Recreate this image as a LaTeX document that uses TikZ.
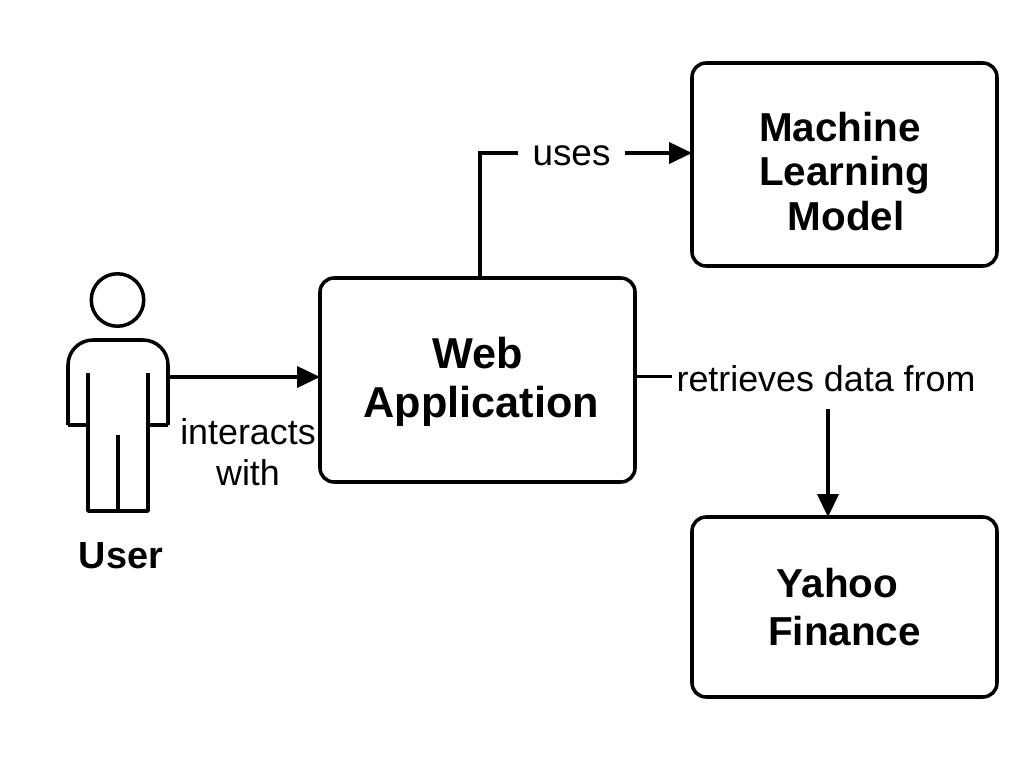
\documentclass[tikz,border=0pt]{standalone}
\usepackage{fontspec}
\setmainfont{Liberation Sans}
\usetikzlibrary{arrows.meta}
\usetikzlibrary{positioning}
\tikzset{
  box/.style={draw, line width=2pt, rounded corners=8pt, outer sep=0pt, align=center},
  lbl/.style={inner sep=0pt, font=\fontsize{20.4}{23}\selectfont},
  figure/.style={line width=2pt, line join=round},
  line/.style={line width=1.8pt},
  arrow/.style={line width=1.8pt, -{Triangle[length=13pt,width=12pt]}}
}

\begin{document}
\begin{tikzpicture}
  \useasboundingbox (0,0) rectangle (20.48,-15.38);

  \node[box, minimum width=6.3cm, minimum height=4.08cm, font=\fontsize{24.6}{28}\selectfont\bfseries] (web) at (9.55,-7.6) {\rule{0pt}{20pt}Web\\\hspace*{4.5pt}Application};
  \node[box, minimum width=6.1cm, minimum height=4.06cm, font=\fontsize{23}{25.5}\selectfont\bfseries] (ml) at (16.89,-3.29) {\rule{0pt}{24.6pt}Machine\hspace*{5pt}\\Learning\\\hspace*{2pt}Model};
  \node[box, minimum width=6.1cm, minimum height=3.6cm, font=\fontsize{23}{27}\selectfont\bfseries] (yahoo) at (16.89,-12.14) {Yahoo\hspace*{8pt}\\Finance};

  % user figure
  \node[draw, circle, line width=2pt, minimum size=1.05cm, inner sep=0pt, outer sep=0pt] (head) at (2.35,-6) {};
  \draw[figure, rounded corners=0.5cm] (1.36,-8.5) -- (1.36,-6.8) -- (3.36,-6.8) -- (3.36,-8.5);
  \draw[figure] (1.76,-7.46) -- (1.76,-8.5) -- (1.36,-8.5);
  \draw[figure] (2.96,-7.46) -- (2.96,-8.5) -- (3.36,-8.5);
  \draw[figure] (1.76,-8.5) -- (1.76,-10.22) -- (2.96,-10.22) -- (2.96,-8.5);
  \draw[figure] (2.36,-8.7) -- (2.36,-10.22);
  \node[lbl, font=\fontsize{21.5}{24}\selectfont\bfseries] (user) at (2.42,-11.12) {User};

  \coordinate (hand) at (3.36,-7.54);
  \coordinate (rleft) at (13.44,-7.53);
  \coordinate (drop) at (16.56,-8.18);

  \node[lbl, align=center] (interacts) at (4.96,-9.04) {interacts\\with};
  \node[lbl, inner xsep=8pt, text height=14pt, text depth=0pt, font=\fontsize{21}{24}\selectfont] (uses) at (11.43,-3.06) {uses};
  \node[lbl] (retrieves) at (16.52,-7.58) {retrieves data from};

  \draw[arrow] (hand) -- (web.west |- hand);
  \draw[line] ([xshift=0.05cm]web.north) |- (uses.west);
  \draw[arrow] (uses.east) -- (ml.west |- uses);
  \draw[line] (web.east |- rleft) -- (rleft);
  \draw[arrow] (drop) -- (drop |- yahoo.north);
\end{tikzpicture}
\end{document}
